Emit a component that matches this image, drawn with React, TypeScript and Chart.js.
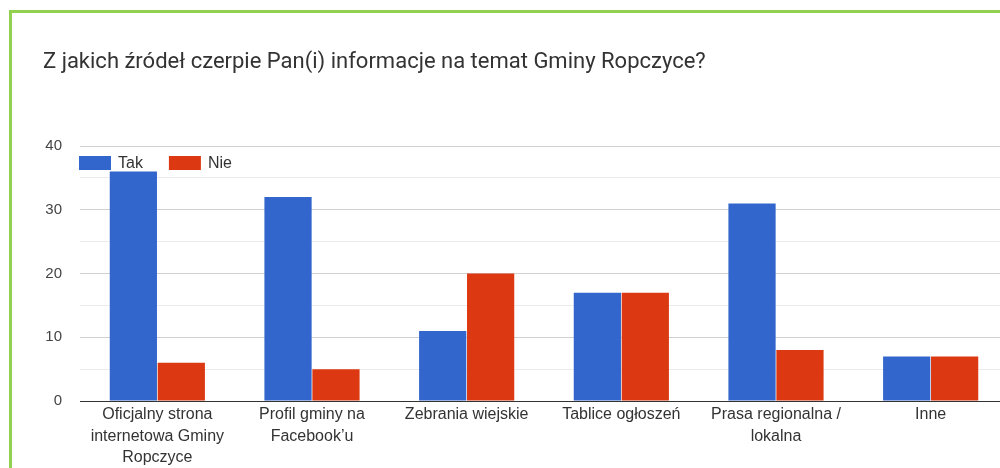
import React, { useEffect, useRef } from "react";
import { Chart, registerables } from "chart.js";

Chart.register(...registerables);

const TITLE = "Z jakich źródeł czerpie Pan(i) informacje na temat Gminy Ropczyce?";
const CATEGORIES: (string | string[])[] = [
  ["Oficjalny strona", "internetowa Gminy", "Ropczyce"],
  ["Profil gminy na", "Facebook’u"],
  "Zebrania wiejskie",
  "Tablice ogłoszeń",
  ["Prasa regionalna /", "lokalna"],
  "Inne",
];
const SERIES_NAMES = ["Tak", "Nie"];
const TAK = [36, 32, 11, 17, 31, 7];
const NIE = [6, 5, 20, 17, 8, 7];
const COLORS = ["#3366cc", "#dc3912"];
const Y_MIN = 0;
const Y_MAX = 40;
const Y_STEP = 5;

const CANVAS_W = 1020;
const CANVAS_H = 500;

const insideLegend = {
  id: "insideLegend",
  afterDatasetsDraw(chart: any) {
    const { ctx, chartArea } = chart;
    ctx.save();
    ctx.font = "16px Arial, 'Liberation Sans', sans-serif";
    ctx.textBaseline = "middle";
    ctx.textAlign = "left";
    let x = chartArea.left - 1;
    const y = chartArea.top + 10;
    chart.data.datasets.forEach((ds: any) => {
      ctx.fillStyle = ds.backgroundColor;
      ctx.fillRect(x, y, 32, 14);
      ctx.fillStyle = "#333333";
      ctx.fillText(ds.label, x + 32 + 7, y + 7.5);
      x += 32 + 7 + ctx.measureText(ds.label).width + 26;
    });
    ctx.restore();
  },
};

export default function App() {
  const ref = useRef<HTMLCanvasElement | null>(null);
  useEffect(() => {
    if (!ref.current) return;
    const chart = new Chart(ref.current, {
      type: "bar",
      data: {
        labels: CATEGORIES as any,
        datasets: [
          { label: SERIES_NAMES[0], data: TAK, backgroundColor: COLORS[0] },
          { label: SERIES_NAMES[1], data: NIE, backgroundColor: COLORS[1] },
        ],
      },
      options: {
        animation: false,
        responsive: false,
        maintainAspectRatio: false,
        layout: { padding: { left: 43, right: 12, top: 0, bottom: 0 } },
        datasets: {
          bar: { categoryPercentage: 0.62, barPercentage: 0.985 },
        } as any,
        plugins: {
          legend: { display: false },
          tooltip: { enabled: false },
          title: {
            display: true,
            text: TITLE,
            align: "start",
            color: "#333333",
            font: { family: "Roboto, Arial, sans-serif", size: 22, weight: "normal" as any, lineHeight: 1.2 },
            padding: { top: 49, bottom: 70.6 },
          },
        },
        scales: {
          x: {
            grid: { display: false, drawTicks: false },
            border: { display: false },
            ticks: {
              autoSkip: false,
              maxRotation: 0,
              minRotation: 0,
              padding: 3,
              color: "#333333",
              font: { family: "Arial, 'Liberation Sans', sans-serif", size: 16, lineHeight: 1.35 },
            },
            afterFit: (scale: any) => {
              scale.height = CANVAS_H - 401;
            },
          },
          y: {
            min: Y_MIN,
            max: Y_MAX,
            border: { display: false },
            grid: {
              drawTicks: false,
              lineWidth: 1,
              color: (c: any) => {
                const v = c.tick ? c.tick.value : 0;
                if (v === 0) return "#333333";
                if (v % 10 === 0) return "#d0d0d0";
                return "#ebebeb";
              },
            },
            ticks: {
              stepSize: Y_STEP,
              padding: 18,
              color: "#444444",
              font: { family: "Arial, 'Liberation Sans', sans-serif", size: 15 },
              callback: (v: any) => (Number(v) % 10 === 0 ? String(v) : ""),
            },
            afterFit: (scale: any) => {
              scale.width = 37;
            },
          },
        },
      },
      plugins: [insideLegend],
    });
    return () => chart.destroy();
  }, []);

  return (
    <div
      style={{
        position: "fixed",
        left: 0,
        top: 0,
        width: 1000,
        height: 468,
        overflow: "hidden",
        background: "#ffffff",
      }}
    >
      <canvas
        ref={ref}
        width={CANVAS_W}
        height={CANVAS_H}
        style={{ position: "absolute", left: 0, top: 0, width: CANVAS_W, height: CANVAS_H }}
      />
      <div
        style={{
          position: "absolute",
          left: 9,
          top: 10,
          width: 1100,
          height: 600,
          borderTop: "3px solid #92d050",
          borderLeft: "3px solid #92d050",
          pointerEvents: "none",
        }}
      />
    </div>
  );
}
